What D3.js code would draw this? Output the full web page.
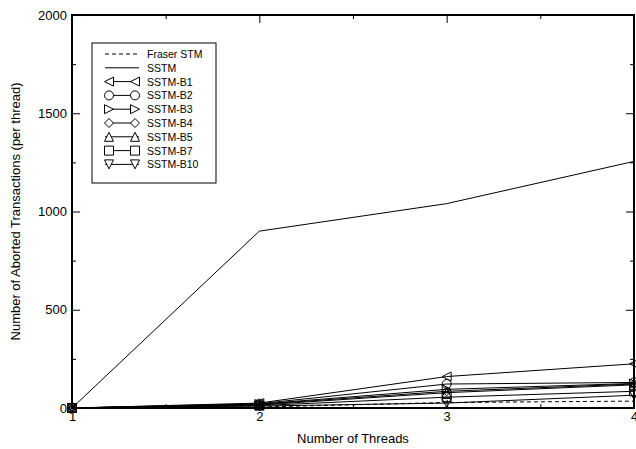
<!DOCTYPE html>
<html>
<head>
<meta charset="utf-8">
<script src="https://cdn.jsdelivr.net/npm/d3@7"></script>
<style>
  body { margin: 0; background: #fff; }
  svg { display: block; font-family: "Liberation Sans", Arial, sans-serif; }
</style>
</head>
<body>
<script>
// thread counts on the x axis
var threads = [1, 2, 3, 4];

// aborted transactions per thread, one array per series
var fraserStm = [0, 5, 28, 35];
var sstm = [0, 900, 1040, 1255];
var sstmB1 = [0, 25, 160, 225];
var sstmB2 = [0, 22, 122, 130];
var sstmB3 = [0, 20, 95, 125];
var sstmB4 = [0, 18, 85, 122];
var sstmB5 = [0, 15, 78, 118];
var sstmB7 = [0, 12, 55, 85];
var sstmB10 = [0, 10, 25, 65];

var seriesNames = ['Fraser STM', 'SSTM', 'SSTM-B1', 'SSTM-B2', 'SSTM-B3', 'SSTM-B4', 'SSTM-B5', 'SSTM-B7', 'SSTM-B10'];
var seriesValues = [fraserStm, sstm, sstmB1, sstmB2, sstmB3, sstmB4, sstmB5, sstmB7, sstmB10];
var seriesMarkers = [null, null, 'left', 'circle', 'right', 'diamond', 'up', 'square', 'down'];

var yTicks = [0, 500, 1000, 1500, 2000];
var yMinorTicks = [250, 750, 1250, 1750];
var xMinorTicks = [1.5, 2.5, 3.5];

var width = 636, height = 449;
var plotLeft = 72, plotRight = 634, plotTop = 15, plotBottom = 408;

var svg = d3.select('body').append('svg')
  .attr('width', width)
  .attr('height', height);

var x = d3.scaleLinear().domain([1, 4]).range([plotLeft, plotRight]);
var y = d3.scaleLinear().domain([0, 2000]).range([plotBottom, plotTop]);

// marker shapes, s = half size
function markerPath(type, s) {
  var p = d3.path();
  if (type === 'circle') {
    p.moveTo(s, 0);
    p.arc(0, 0, s, 0, 2 * Math.PI);
    return p.toString();
  }
  var pts;
  if (type === 'left') pts = [[-s, 0], [s, -s], [s, s]];
  if (type === 'right') pts = [[s, 0], [-s, -s], [-s, s]];
  if (type === 'up') pts = [[0, -s], [s, s], [-s, s]];
  if (type === 'down') pts = [[0, s], [s, -s], [-s, -s]];
  if (type === 'diamond') pts = [[0, -s], [s, 0], [0, s], [-s, 0]];
  if (type === 'square') pts = [[-s, -s], [s, -s], [s, s], [-s, s]];
  p.moveTo(pts[0][0], pts[0][1]);
  for (var i = 1; i < pts.length; i++) p.lineTo(pts[i][0], pts[i][1]);
  p.closePath();
  return p.toString();
}

// axes, ticks inside
var axisStyle = function(g) {
  g.select('.domain').remove();
  g.selectAll('.tick line').attr('stroke', '#000');
  g.selectAll('text').attr('fill', '#000').style('font-size', '13px');
};

svg.append('g')
  .attr('transform', 'translate(' + plotLeft + ',0)')
  .call(d3.axisLeft(y).tickValues(yTicks).tickSize(-8).tickPadding(5).tickFormat(d3.format('d')))
  .call(axisStyle);
svg.append('g')
  .attr('transform', 'translate(' + plotLeft + ',0)')
  .call(d3.axisLeft(y).tickValues(yMinorTicks).tickSize(-4).tickFormat(''))
  .call(axisStyle);
svg.append('g')
  .attr('transform', 'translate(' + plotRight + ',0)')
  .call(d3.axisRight(y).tickValues(yTicks).tickSize(-8).tickFormat(''))
  .call(axisStyle);
svg.append('g')
  .attr('transform', 'translate(' + plotRight + ',0)')
  .call(d3.axisRight(y).tickValues(yMinorTicks).tickSize(-4).tickFormat(''))
  .call(axisStyle);

svg.append('g')
  .attr('transform', 'translate(0,' + plotBottom + ')')
  .call(d3.axisBottom(x).tickValues(threads).tickSize(-8).tickPadding(4).tickFormat(d3.format('d')))
  .call(axisStyle);
svg.append('g')
  .attr('transform', 'translate(0,' + plotBottom + ')')
  .call(d3.axisBottom(x).tickValues(xMinorTicks).tickSize(-4).tickFormat(''))
  .call(axisStyle);
svg.append('g')
  .attr('transform', 'translate(0,' + plotTop + ')')
  .call(d3.axisTop(x).tickValues(threads).tickSize(-8).tickFormat(''))
  .call(axisStyle);
svg.append('g')
  .attr('transform', 'translate(0,' + plotTop + ')')
  .call(d3.axisTop(x).tickValues(xMinorTicks).tickSize(-4).tickFormat(''))
  .call(axisStyle);

// frame
svg.append('rect')
  .attr('x', plotLeft).attr('y', plotTop)
  .attr('width', plotRight - plotLeft).attr('height', plotBottom - plotTop)
  .attr('fill', 'none').attr('stroke', '#000').attr('stroke-width', 2);

// axis titles
svg.append('text')
  .attr('x', (plotLeft + plotRight) / 2).attr('y', 443)
  .attr('text-anchor', 'middle')
  .style('font-size', '13px')
  .text('Number of Threads');
svg.append('text')
  .attr('transform', 'translate(20,' + (plotTop + plotBottom) / 2 + ') rotate(-90)')
  .attr('text-anchor', 'middle')
  .style('font-size', '13px')
  .text('Number of Aborted Transactions (per thread)');

// series
var line = d3.line()
  .x(function(d, i) { return x(threads[i]); })
  .y(function(d) { return y(d); });

seriesValues.forEach(function(vals, k) {
  svg.append('path')
    .datum(vals)
    .attr('d', line)
    .attr('fill', 'none')
    .attr('stroke', '#000')
    .attr('stroke-width', 1)
    .attr('stroke-dasharray', k === 0 ? '4,3' : null);
  if (seriesMarkers[k]) {
    svg.selectAll('.m' + k)
      .data(vals)
      .enter()
      .append('path')
      .attr('class', 'm' + k)
      .attr('transform', function(d, i) { return 'translate(' + x(threads[i]) + ',' + y(d) + ')'; })
      .attr('d', markerPath(seriesMarkers[k], 4.5))
      .attr('fill', 'none')
      .attr('stroke', '#000');
  }
});

// legend
var legend = svg.append('g');
legend.append('rect')
  .attr('x', 92).attr('y', 43)
  .attr('width', 124).attr('height', 140)
  .attr('fill', '#fff').attr('stroke', '#000').attr('stroke-width', 1);

seriesNames.forEach(function(name, k) {
  var ly = 54 + k * 13.8;
  legend.append('line')
    .attr('x1', 105).attr('x2', 139)
    .attr('y1', ly).attr('y2', ly)
    .attr('stroke', '#000')
    .attr('stroke-dasharray', k === 0 ? '4,3' : null);
  if (seriesMarkers[k]) {
    [109, 135].forEach(function(mx) {
      legend.append('path')
        .attr('transform', 'translate(' + mx + ',' + ly + ')')
        .attr('d', markerPath(seriesMarkers[k], 4.5))
        .attr('fill', '#fff')
        .attr('stroke', '#000');
    });
  }
  legend.append('text')
    .attr('x', 147).attr('y', ly + 4)
    .style('font-size', '10.5px')
    .text(name);
});
</script>
</body>
</html>
